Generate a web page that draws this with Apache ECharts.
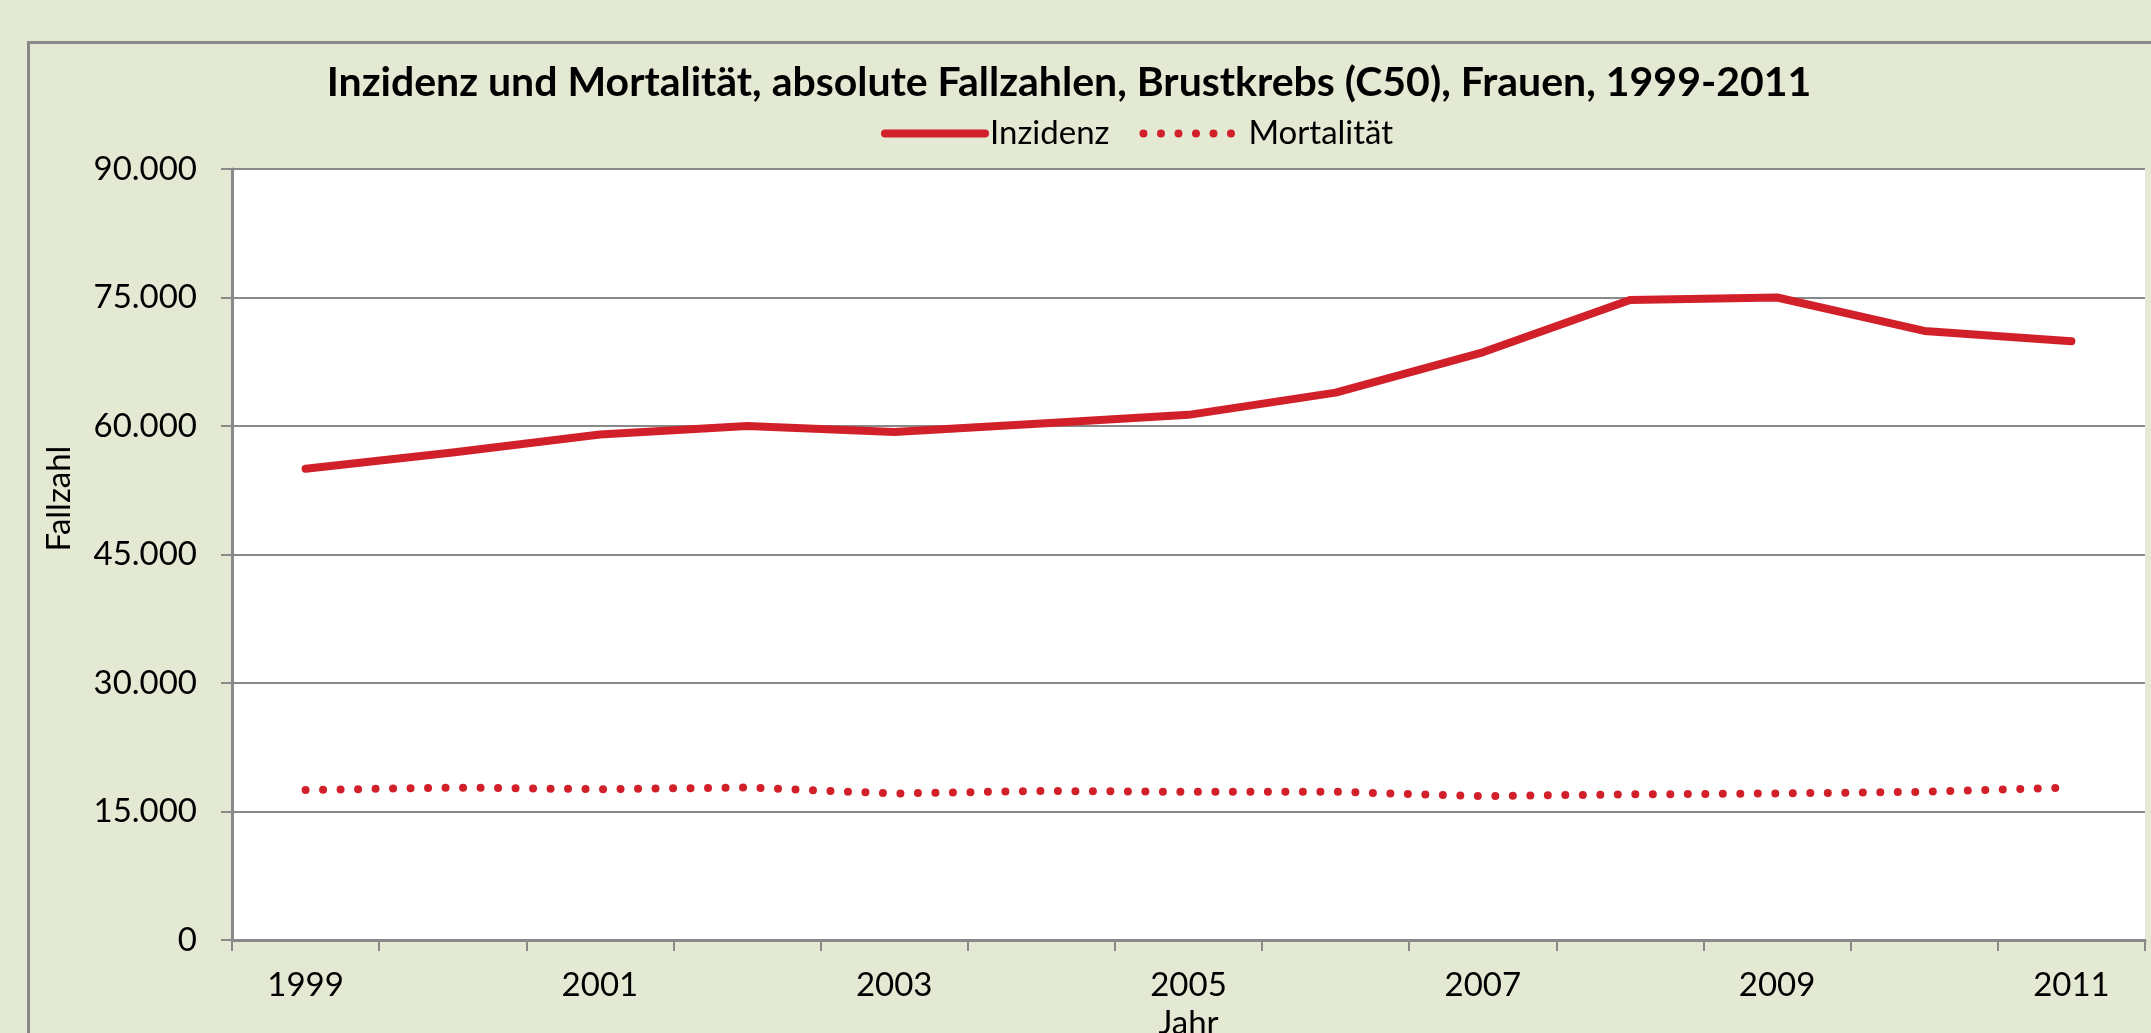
<!DOCTYPE html>
<html>
<head>
<meta charset="utf-8">
<script src="https://cdn.jsdelivr.net/npm/echarts@6/dist/echarts.min.js"></script>
<style>
  html, body { margin: 0; padding: 0; background: #E4E9D3; overflow: hidden; }
  #frame { position: absolute; left: 27px; top: 41px; width: 2200px; height: 1100px;
           border-left: 3px solid #898989; border-top: 3px solid #898989; }
  #main { position: absolute; left: 0; top: 0; width: 2151px; height: 1033px; }
</style>
</head>
<body>
<div id="frame"></div>
<div id="main"></div>
<script>
// Jahre (Kategorien)
var years = ['1999', '2000', '2001', '2002', '2003', '2004', '2005', '2006', '2007', '2008', '2009', '2010', '2011']
// absolute Fallzahlen, Frauen, C50
var inzidenz = [55000, 56900, 59000, 60000, 59300, 60300, 61300, 63900, 68600, 74700, 75000, 71100, 69900]
var mortalitaet = [17500, 17800, 17600, 17800, 17100, 17400, 17300, 17300, 16800, 17000, 17100, 17300, 17800]

var red = '#D2202A'
var gray = '#898989'
var font = 'Lato'

function fmt (v) {
  return String(v).replace(/\B(?=(\d{3})+(?!\d))/g, '.')
}

var chart = echarts.init(document.getElementById('main'))
chart.setOption({
  backgroundColor: 'transparent',
  textStyle: { fontFamily: font, color: '#000' },
  title: {
    text: 'Inzidenz und Mortalität, absolute Fallzahlen, Brustkrebs (C50), Frauen, 1999-2011',
    left: 1064,
    textAlign: 'center',
    top: 57,
    textStyle: { fontFamily: font, fontSize: 41, fontWeight: 'bold', color: '#000' }
  },
  legend: {
    left: 876,
    top: 112,
    itemWidth: 100,
    itemHeight: 8,
    itemGap: 30,
    lineStyle: { width: 8 },
    itemStyle: { opacity: 0 },
    textStyle: { fontFamily: font, fontSize: 33, color: '#000' },
    data: ['Inzidenz', 'Mortalität']
  },
  grid: {
    left: 232,
    right: 6,
    top: 169,
    bottom: 93,
    outerBoundsMode: 'none',
    show: true,
    backgroundColor: '#fff',
    borderWidth: 0
  },
  xAxis: {
    type: 'category',
    data: years,
    boundaryGap: true,
    name: 'Jahr',
    nameLocation: 'middle',
    nameGap: 66,
    nameTextStyle: { fontFamily: font, fontSize: 33, color: '#000' },
    axisLine: { lineStyle: { color: gray, width: 3 } },
    axisTick: { show: true, interval: 0, length: 11, lineStyle: { color: gray, width: 2 } },
    axisLabel: { interval: 1, margin: 29, fontFamily: font, fontSize: 33, color: '#000' },
    splitLine: { show: false }
  },
  yAxis: {
    type: 'value',
    min: 0,
    max: 90000,
    interval: 15000,
    name: 'Fallzahl',
    nameLocation: 'middle',
    nameGap: 156,
    nameTextStyle: { fontFamily: font, fontSize: 33, color: '#000', padding: [0, 0, 0, 112] },
    axisLine: { show: true, lineStyle: { color: gray, width: 3 } },
    axisTick: { show: true, length: 11, lineStyle: { color: gray, width: 2 } },
    axisLabel: { margin: 35, fontFamily: font, fontSize: 33, color: '#000', formatter: fmt },
    splitLine: { show: true, lineStyle: { color: gray, width: 2 } }
  },
  series: [
    {
      name: 'Mortalität',
      type: 'line',
      data: mortalitaet,
      symbol: 'none',
      color: red,
      lineStyle: { color: red, width: 8, type: [0, 17.5], cap: 'round' }
    },
    {
      name: 'Inzidenz',
      type: 'line',
      data: inzidenz,
      symbol: 'none',
      color: red,
      lineStyle: { color: red, width: 8, cap: 'round', join: 'round' }
    }
  ]
})
</script>
</body>
</html>
